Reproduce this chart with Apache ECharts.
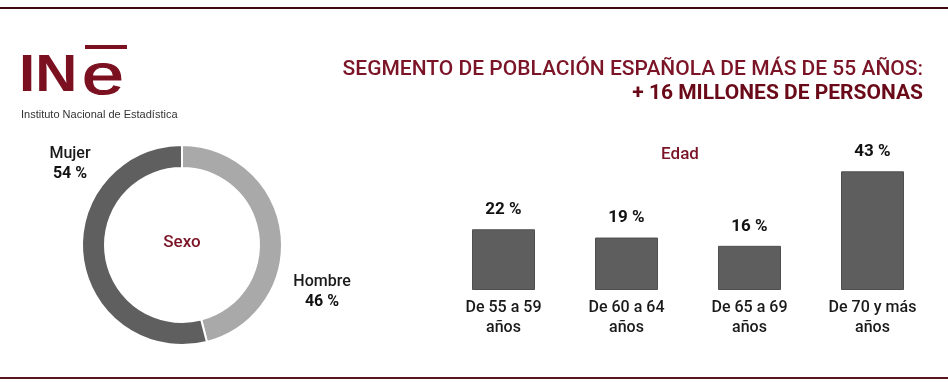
<!DOCTYPE html>
<html><head><meta charset="utf-8">
<script src="https://cdn.jsdelivr.net/npm/echarts@6/dist/echarts.min.js"></script>
<style>html,body{margin:0;padding:0;background:#fff}#c{width:948px;height:383px}</style>
</head><body><div id="c"></div>
<script>
const sexCategories = ['Hombre', 'Mujer'];
const sexValues = [46, 54];
const ageCategories = ['De 55 a 59\naños', 'De 60 a 64\naños', 'De 65 a 69\naños', 'De 70 y más\naños'];
const ageValues = [22, 19, 16, 43];

const FONT = 'Roboto';
const RED = '#7a1426';
const chart = echarts.init(document.getElementById('c'), null, {renderer: 'canvas'});
const labelPos = {Hombre: [322, 292], Mujer: [70, 164]};

chart.setOption({
  animation: false,
  textStyle: {fontFamily: FONT},
  graphic: [
    {type: 'rect', shape: {x: 0, y: 7, width: 948, height: 2}, style: {fill: '#3d0a10'}},
    {type: 'rect', shape: {x: 0, y: 377, width: 948, height: 2}, style: {fill: '#5a1520'}},
    {type: 'text', x: 19, y: 77, scaleX: 1.12, style: {text: 'IN', font: 'bold 52px "Liberation Sans"', fill: '#7a1020', verticalAlign: 'middle'}},
    {type: 'text', x: 82, y: 78, scaleX: 1.3, style: {text: 'e', font: '58px "Liberation Sans"', fill: '#7a1020', stroke: '#7a1020', lineWidth: 1.2, verticalAlign: 'middle'}},
    {type: 'rect', shape: {x: 85, y: 45, width: 42, height: 4}, style: {fill: '#7a1020'}},
    {type: 'text', x: 21, y: 115, style: {text: 'Instituto Nacional de Estadística', font: '11px "Liberation Sans"', fill: '#333', verticalAlign: 'middle'}},
    {type: 'text', x: 923, y: 70, style: {text: 'SEGMENTO DE POBLACIÓN ESPAÑOLA DE MÁS DE 55 AÑOS:', font: '500 21px Roboto', fill: RED, align: 'right', verticalAlign: 'middle'}},
    {type: 'text', x: 923, y: 94, style: {text: '+ 16 MILLONES DE PERSONAS', font: 'bold 21px Roboto', fill: '#6a0a18', align: 'right', verticalAlign: 'middle'}},
    {type: 'text', x: 182, y: 243, style: {text: 'Sexo', font: '500 17px Roboto', fill: RED, align: 'center', verticalAlign: 'middle'}},
    {type: 'text', x: 680, y: 155, style: {text: 'Edad', font: '500 17px Roboto', fill: RED, align: 'center', verticalAlign: 'middle'}}
  ],
  grid: {left: 442, right: 14, top: 152, bottom: 93},
  xAxis: {
    type: 'category', data: ageCategories,
    axisLine: {show: false}, axisTick: {show: false},
    axisLabel: {color: '#1a1a1a', fontSize: 16, fontWeight: 500, fontFamily: FONT, lineHeight: 20, margin: 8}
  },
  yAxis: {type: 'value', min: 0, max: 50, show: false, splitLine: {show: false}},
  series: [
    {
      type: 'bar', data: ageValues, barWidth: 63,
      itemStyle: {color: '#5e5e5e', borderColor: '#4f4f4f', borderWidth: 1},
      label: {show: true, position: 'top', distance: 11, formatter: '{c} %', fontWeight: 'bold', fontSize: 17, color: '#111', fontFamily: FONT}
    },
    {
      type: 'pie', center: [182, 245], radius: [77, 100], startAngle: 90, clockwise: true,
      data: sexCategories.map((n, i) => ({name: n, value: sexValues[i]})),
      color: ['#a9a9a9', '#5f5f5f'],
      itemStyle: {borderColor: '#fff', borderWidth: 2},
      label: {
        show: true, position: 'outside', overflow: 'none', formatter: '{n|{b}}\n{p|{c} %}',
        rich: {
          n: {fontSize: 16, fontWeight: 500, color: '#1a1a1a', fontFamily: FONT, lineHeight: 20, align: 'center'},
          p: {fontSize: 16, color: '#111', fontWeight: 'bold', fontFamily: FONT, lineHeight: 20, align: 'center'}
        }
      },
      labelLine: {show: false},
      labelLayout: function (p) {
        const name = sexCategories[p.dataIndex];
        const pos = labelPos[name];
        return {x: pos[0], y: pos[1], align: 'center', verticalAlign: 'middle'};
      },
      emphasis: {disabled: true}
    }
  ]
});
</script></body></html>
